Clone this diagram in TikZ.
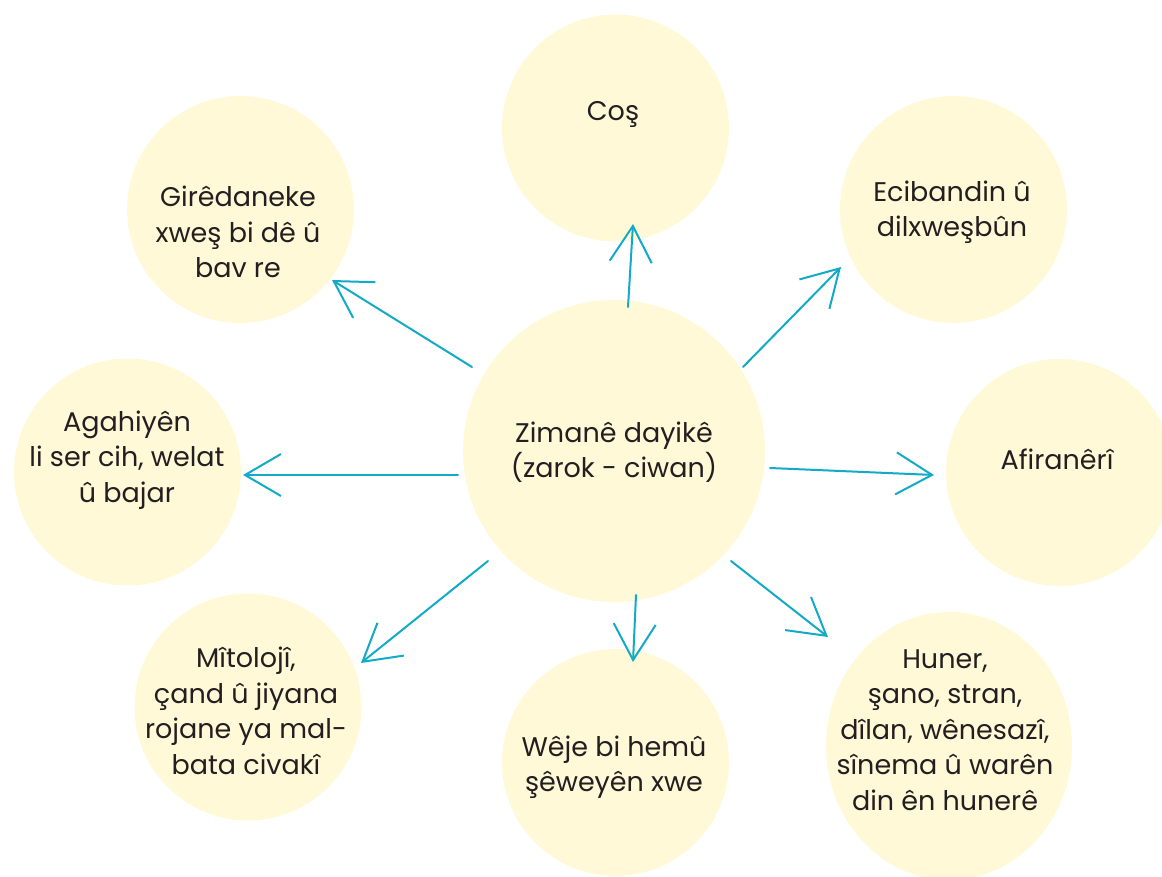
\documentclass[tikz,border=0pt]{standalone}
\usepackage{fontspec}
\setmainfont{Poppins}
\usetikzlibrary{arrows.meta,shapes.geometric}
\definecolor{bubble}{HTML}{FFF9D8}
\definecolor{arrowc}{HTML}{12AAC6}
\definecolor{ink}{HTML}{231F20}
\tikzset{
  bubble/.style={circle, fill=bubble, minimum size=227pt, inner sep=0pt},
  txt/.style={align=center, text=ink, font=\fontsize{27}{35.5}\selectfont},
  link/.style={draw=arrowc, line width=2pt, line cap=round,
    -{Straight Barb[length=36pt, width=42pt, line width=2pt]}}
}
\begin{document}
\begin{tikzpicture}[x=1pt, y=-1pt]
\useasboundingbox (0,0) rectangle (1162,877);
\clip (0,0) rectangle (1162,877);
% bubbles
\node[bubble, minimum size=302pt] (zim) at (614,451) {};
\node[bubble] (cos) at (615.5,128) {};
\node[bubble] (gir) at (240.5,209.5) {};
\node[bubble] (eci) at (953.5,209.5) {};
\node[bubble] (aga) at (127.5,472) {};
\node[bubble] (afi) at (1059.5,472.5) {};
\node[bubble] (mit) at (248,707) {};
\node[bubble] (wej) at (615.5,762.5) {};
\node[ellipse, fill=bubble, minimum width=246pt, minimum height=268pt, inner sep=0pt] (hun) at (949,746) {};
% texts
\node[txt] (zimt) at (614,452) {Zimanê dayikê\\(zarok - ciwan)};
\node[txt] (cost) at (613,114) {Coş};
\node[txt] (girt) at (238,232) {Girêdaneke\\xweş bi dê û\\bav re};
\node[txt] (ecit) at (952,212) {Ecibandin û\\dilxweşbûn};
\node[txt] (agat) at (127,460) {Agahiyên\\li ser cih, welat\\û bajar};
\node[txt] (afit) at (1057,459) {Afiranêrî};
\node[txt] (mitt) at (246,711) {Mîtolojî,\\çand û jiyana\\rojane ya mal-\\bata civakî};
\node[txt] (wejt) at (614,767) {Wêje bi hemû\\şêweyên xwe};
\node[txt] (hunt) at (945,730) {Huner,\\şano, stran,\\dîlan, wênesazî,\\sînema û warên\\din ên hunerê};
% arrow ends
\coordinate (s1) at (472,367); \coordinate (e1) at (332,280);
\coordinate (s2) at (628,307); \coordinate (e2) at (633,224);
\coordinate (s3) at (743,367); \coordinate (e3) at (841,267);
\coordinate (s4) at (458,475); \coordinate (e4) at (243,475);
\coordinate (s5) at (770,468); \coordinate (e5) at (934,475);
\coordinate (s6) at (488,561); \coordinate (e6) at (361,663);
\coordinate (s7) at (636,595); \coordinate (e7) at (633,662);
\coordinate (s8) at (731,561); \coordinate (e8) at (828,637);
\foreach \i in {1,...,8} { \draw[link] (s\i) -- (e\i); }
\end{tikzpicture}
\end{document}
